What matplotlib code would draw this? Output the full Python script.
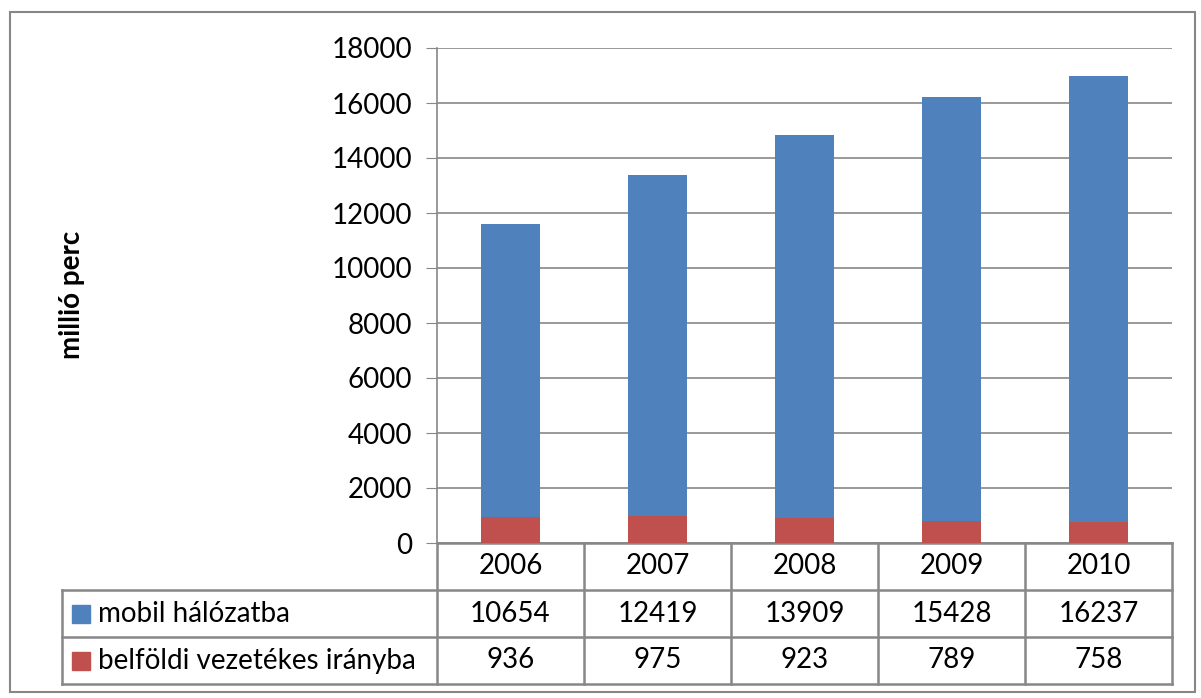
import matplotlib.pyplot as plt
from matplotlib.patches import Rectangle
import matplotlib.transforms as mtrans

years = ["2006", "2007", "2008", "2009", "2010"]
mobil = [10654, 12419, 13909, 15428, 16237]
belfoldi = [936, 975, 923, 789, 758]
series_names = ["mobil hálózatba", "belföldi vezetékes irányba"]
blue = "#4F81BD"
red = "#C0504D"
grey = "#878787"

plt.rcParams["font.family"] = ["Lato", "DejaVu Sans"]

fig = plt.figure(figsize=(12.01, 6.98), dpi=100)
W, H = 1201, 698
ax = fig.add_axes([437 / W, (H - 543) / H, 735 / W, 495 / H])

x = list(range(len(years)))
ax.bar(x, belfoldi, width=0.4, color=red, zorder=3)
ax.bar(x, mobil, width=0.4, bottom=belfoldi, color=blue, zorder=3)

fs = 20
ax.set_xlim(-0.5, len(years) - 0.5)
ax.set_ylim(0, 18000)
ax.set_yticks(range(0, 18001, 2000))
ax.tick_params(axis="y", labelsize=fs, length=8, color=grey, pad=10, direction="out")
ax.set_xticks([])
ax.grid(axis="y", color=grey, linewidth=1.2, zorder=0)
for side in ["top", "right", "bottom"]:
    ax.spines[side].set_visible(False)
ax.spines["left"].set_color(grey)
ax.spines["left"].set_linewidth(1.2)

# data table under the axis
tr = mtrans.blended_transform_factory(ax.transData, ax.transAxes)
rh = 47 / 495
left_x = -0.5 - (437 - 62) / 147
lw = 1.8
ax.plot([-0.5, 4.5], [0, 0], transform=tr, color=grey, lw=lw, clip_on=False)
for k in range(1, 4):
    ax.plot([left_x, 4.5], [-k * rh, -k * rh], transform=tr, color=grey, lw=lw, clip_on=False)
for i in range(len(years) + 1):
    ax.plot([i - 0.5, i - 0.5], [0, -3 * rh], transform=tr, color=grey, lw=lw, clip_on=False)
ax.plot([left_x, left_x], [-rh, -3 * rh], transform=tr, color=grey, lw=lw, clip_on=False)

for i, yr in enumerate(years):
    ax.text(i, -0.5 * rh, yr, transform=tr, ha="center", va="center", fontsize=fs)
    ax.text(i, -1.5 * rh, str(mobil[i]), transform=tr, ha="center", va="center", fontsize=fs)
    ax.text(i, -2.5 * rh, str(belfoldi[i]), transform=tr, ha="center", va="center", fontsize=fs)

for k, (name, col) in enumerate(zip(series_names, [blue, red])):
    yc = -(1.5 + k) * rh
    ax.add_patch(Rectangle((left_x + 10 / 147, yc - 9 / 495), 18 / 147, 18 / 495,
                           transform=tr, color=col, clip_on=False))
    ax.text(left_x + 36 / 147, yc, name, transform=tr, ha="left", va="center", fontsize=fs)

fig.text(72 / W, 1 - 295 / H, "millió perc", rotation=90, ha="center", va="center",
         fontsize=20, fontweight="bold")

fig.patches.append(Rectangle((10 / W, 1 - 692 / H), 1185 / W, 680 / H, transform=fig.transFigure,
                             fill=False, edgecolor=grey, lw=1.5))

fig.savefig("out.png", dpi=100)
